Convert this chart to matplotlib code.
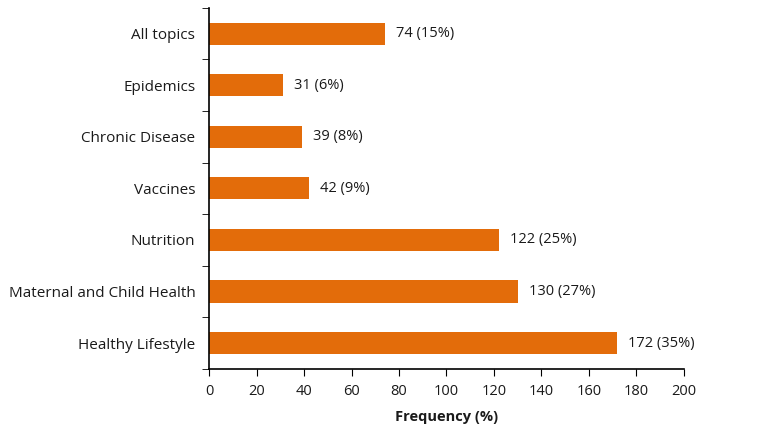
import matplotlib.pyplot as plt
import numpy as np

plt.rcParams['font.family'] = ['Open Sans', 'DejaVu Sans']

topics = ["Healthy Lifestyle", "Maternal and Child Health", "Nutrition",
          "Vaccines", "Chronic Disease", "Epidemics", "All topics"]
counts = [172, 130, 122, 42, 39, 31, 74]
pcts = [35, 27, 25, 9, 8, 6, 15]

fig = plt.figure(figsize=(7.58, 4.36), dpi=100)
ax = fig.add_axes([0.276, 0.154, 0.626, 0.828])

y = np.arange(len(topics))
bars = ax.barh(y, counts, height=0.43, color='#E36C0A')
ax.bar_label(bars, labels=[f"{c} ({p}%)" for c, p in zip(counts, pcts)],
             padding=8, fontsize=10.5, color='#1a1a1a')

ax.set_xlim(0, 200)
ax.set_ylim(-0.5, len(topics) - 0.5)
ax.set_xticks(range(0, 201, 20))
ax.set_yticks(y)
ax.set_yticklabels(topics)
ax.set_yticks(np.arange(-0.5, len(topics), 1), minor=True)
ax.tick_params(axis='y', which='major', length=0, pad=10, labelsize=11,
               labelcolor='#1a1a1a')
ax.tick_params(axis='y', which='minor', length=5, direction='out')
ax.tick_params(axis='x', length=5, direction='out', pad=6, labelsize=10.5,
               labelcolor='#1a1a1a')
ax.set_xlabel("Frequency (%)", fontweight='bold', fontsize=10.5, labelpad=8,
              color='#1a1a1a')

for s in ['top', 'right']:
    ax.spines[s].set_visible(False)
for s in ['left', 'bottom']:
    ax.spines[s].set_linewidth(1.2)

fig.savefig('out.png', dpi=100)
